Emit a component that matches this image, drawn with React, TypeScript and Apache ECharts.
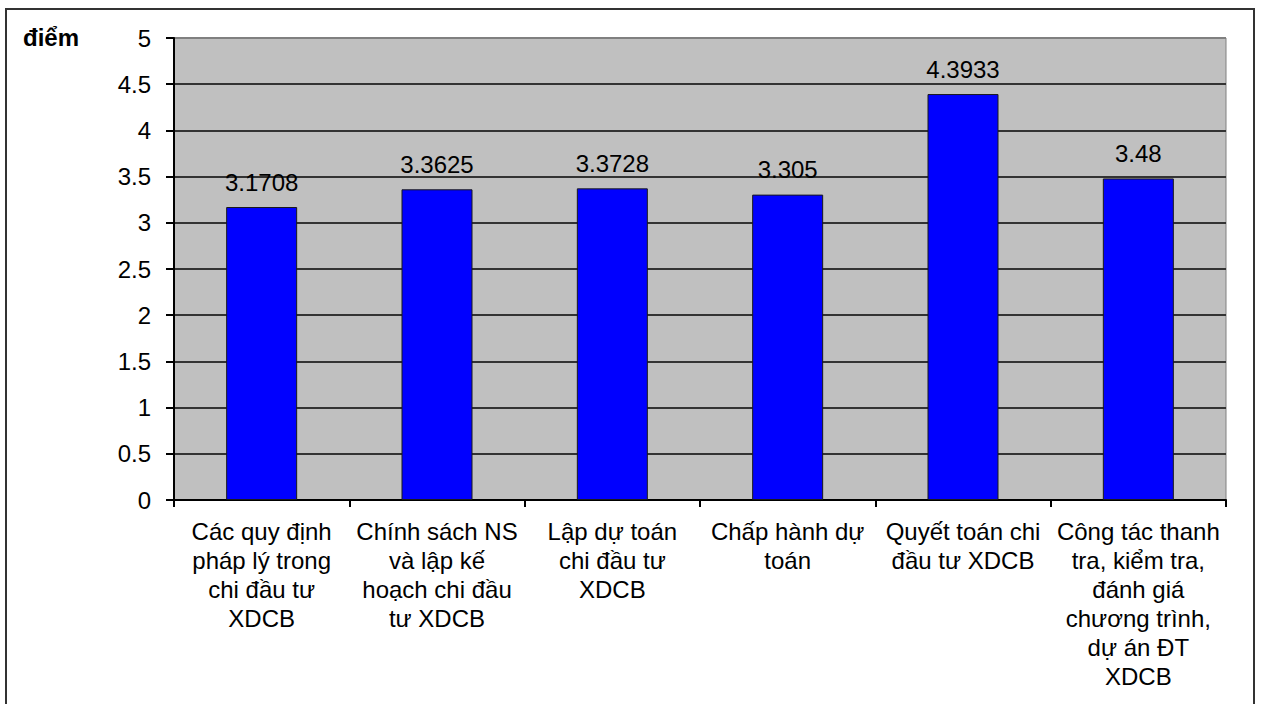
import React, { useEffect, useRef } from "react";
import * as echarts from "echarts";

const categories = [
  "Các quy định\npháp lý trong\nchi đầu tư\nXDCB",
  "Chính sách NS\nvà lập kế\nhoạch chi đầu\ntư XDCB",
  "Lập dự toán\nchi đầu tư\nXDCB",
  "Chấp hành dự\ntoán",
  "Quyết toán chi\nđầu tư XDCB",
  "Công tác thanh\ntra, kiểm tra,\nđánh giá\nchương trình,\ndự án ĐT\nXDCB",
];
const scores = [3.1708, 3.3625, 3.3728, 3.305, 4.3933, 3.48];
const scoreLabels = ["3.1708", "3.3625", "3.3728", "3.305", "4.3933", "3.48"];
const yUnit = "điểm";

export default function App() {
  const ref = useRef<HTMLDivElement>(null);
  useEffect(() => {
    if (!ref.current) return;
    const chart = echarts.init(ref.current, null, { renderer: "svg" });
    const font = "Liberation Sans, Arial, sans-serif";
    const gridColors = ["#000", "#333", "#333", "#333", "#333", "#333", "#333", "#333", "#333", "#333", "#808080"];
    chart.setOption({
      animation: false,
      backgroundColor: "#ffffff",
      grid: {
        left: 174,
        right: 35,
        top: 38,
        bottom: 204,
        show: true,
        backgroundColor: "#C0C0C0",
        borderColor: "#808080",
        borderWidth: 1,
      },
      graphic: [
        {
          type: "rect",
          shape: { x: 6, y: 9, width: 1248, height: 720 },
          style: { fill: "none", stroke: "#333", lineWidth: 2 },
          silent: true,
        },
        {
          type: "text",
          x: 23,
          y: 37,
          style: {
            text: yUnit,
            font: `bold 24px ${font}`,
            fill: "#000",
            verticalAlign: "middle",
          },
        },
      ],
      xAxis: {
        type: "category",
        data: categories,
        axisLine: { show: true, lineStyle: { color: "#000", width: 2 } },
        axisTick: { show: true, length: 7, lineStyle: { color: "#000", width: 2 } },
        axisLabel: {
          interval: 0,
          margin: 17,
          fontSize: 24,
          lineHeight: 29,
          fontFamily: font,
          color: "#000",
          align: "center",
        },
        splitLine: { show: false },
      },
      yAxis: {
        type: "value",
        min: 0,
        max: 5,
        interval: 0.5,
        axisLine: { show: true, lineStyle: { color: "#000", width: 2 } },
        axisTick: { show: true, length: 8, lineStyle: { color: "#000", width: 2 } },
        axisLabel: {
          margin: 23,
          fontSize: 24,
          fontFamily: font,
          color: "#000",
        },
        splitLine: { show: true, lineStyle: { color: gridColors, width: 2 } },
      },
      series: [
        {
          type: "bar",
          data: scores,
          barWidth: 71,
          itemStyle: { color: "#0000FF", borderColor: "#1a1a1a", borderWidth: 1 },
          label: {
            show: true,
            position: "top",
            distance: 13,
            fontSize: 24,
            fontFamily: font,
            color: "#000",
            formatter: (p: any) => scoreLabels[p.dataIndex],
          },
        },
      ],
    });
    return () => chart.dispose();
  }, []);
  return (
    <div
      ref={ref}
      style={{ position: "fixed", left: 0, top: 0, width: 1261, height: 704, background: "#fff" }}
    />
  );
}
